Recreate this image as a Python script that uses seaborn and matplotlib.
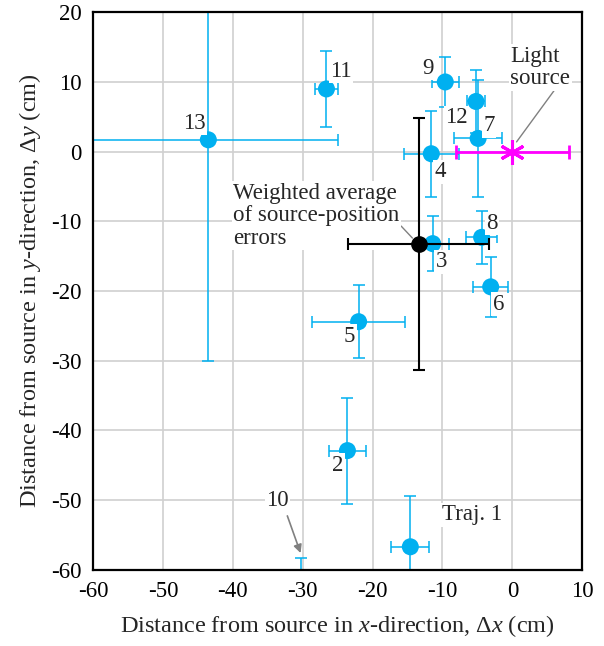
import matplotlib
matplotlib.use("Agg")
import matplotlib.pyplot as plt
from matplotlib.ticker import MultipleLocator
import seaborn as sns
import pandas as pd

# ---- data ----
traj = ["Traj. 1", "2", "3", "4", "5", "6", "7", "8", "9", "10", "11", "12", "13"]
dx = [-14.6, -23.6, -11.4, -11.6, -22.0, -3.1, -4.9, -4.4, -9.6, -30.3, -26.6, -5.2, -43.5]
dy = [-56.7, -42.9, -13.2, -0.3, -24.4, -19.4, 1.9, -12.3, 10.0, -65.0, 9.0, 7.2, 1.7]
ex = [2.7, 2.6, 2.3, 3.9, 6.7, 2.5, 3.45, 2.2, 1.9, 2.0, 1.6, 1.3, 18.5]
ey = [7.3, 7.6, 3.9, 6.2, 5.2, 4.3, 8.4, 3.8, 3.65, 6.7, 5.4, 4.5, 31.7]

avg_x, avg_y, avg_ex, avg_ey = -13.4, -13.2, 10.1, 18.1
src_x, src_y, src_ex = 0.0, 0.0, 8.1

# label anchor positions (data coords)
lab_x = [-10.0, -25.0, -10.2, -10.3, -23.3, -2.0, -3.3, -2.9, -12.0, -33.6, -24.5, -8.0, -45.5]
lab_y = [-52.1, -45.0, -15.8, -2.9, -26.5, -21.9, 3.7, -10.3, 12.0, -50.0, 11.5, 4.9, 4.1]

df = pd.DataFrame({"traj": traj, "dx": dx, "dy": dy, "ex": ex, "ey": ey})

BLUE = "#00B0F0"
MAG = "#FF00FF"

sns.set_style("white")
plt.rcParams["font.family"] = ["Liberation Serif", "DejaVu Serif"]
plt.rcParams["mathtext.fontset"] = "custom"
plt.rcParams["mathtext.rm"] = "Liberation Serif"
plt.rcParams["mathtext.it"] = "Liberation Serif:italic"
plt.rcParams["axes.unicode_minus"] = False

fig = plt.figure(figsize=(6.04, 6.46), dpi=100)
ax = fig.add_axes([0.154, 0.118, 0.81, 0.863])

ax.errorbar(df["dx"], df["dy"], xerr=df["ex"], yerr=df["ey"], fmt="none",
            ecolor=BLUE, elinewidth=1.1, capsize=4, capthick=1.1, zorder=2)
sns.scatterplot(data=df, x="dx", y="dy", color=BLUE, s=150, edgecolor="none",
                ax=ax, zorder=3, legend=False)

ax.errorbar([avg_x], [avg_y], xerr=[avg_ex], yerr=[avg_ey], fmt="o", color="black",
            ms=11, elinewidth=1.5, capsize=4, capthick=1.5, zorder=4)
ax.errorbar([src_x], [src_y], xerr=[src_ex], fmt="none", ecolor=MAG,
            elinewidth=2.0, capsize=5, capthick=2.0, zorder=4)
ax.plot([src_x], [src_y], marker=(6, 2, 0), ms=18, mew=2.2, color=MAG, ls="none", zorder=5)

fs = 16.5
box = dict(facecolor="white", edgecolor="none", pad=1.0)
for t, lx, ly in zip(traj, lab_x, lab_y):
    if t == "10":
        continue
    ha = "left" if t.startswith("Traj") else "center"
    ax.text(lx, ly, t, fontsize=fs, ha=ha, va="center", zorder=6, bbox=box)

ax.annotate("10", xy=(-30.3, -57.6), xytext=(-33.6, -50.0), fontsize=fs,
            ha="center", va="center", zorder=1.5, bbox=box,
            arrowprops=dict(arrowstyle="-|>", color="#808080", lw=1.2,
                            shrinkA=3, shrinkB=0, mutation_scale=12, relpos=(0.85, 0.0)))
ax.annotate("Light\nsource", xy=(0.6, 1.4), xytext=(-0.3, 12.1), fontsize=fs,
            ha="left", va="center", linespacing=1.1, zorder=1.5, bbox=box,
            arrowprops=dict(arrowstyle="-", color="#808080", lw=1.0,
                            shrinkA=0, shrinkB=0, relpos=(0.75, 0.0)))
ax.annotate("Weighted average\nof source-position\nerrors", xy=(-14.3, -12.4),
            xytext=(-39.9, -9.2), fontsize=fs, ha="left", va="center",
            linespacing=1.1, zorder=1.5, bbox=box,
            arrowprops=dict(arrowstyle="-", color="#808080", lw=1.0,
                            shrinkA=0, shrinkB=0, relpos=(0.98, 0.42)))

ax.set_xlim(-60, 10)
ax.set_ylim(-60, 20)
ax.xaxis.set_major_locator(MultipleLocator(10))
ax.yaxis.set_major_locator(MultipleLocator(10))
ax.xaxis.set_minor_locator(MultipleLocator(2))
ax.yaxis.set_minor_locator(MultipleLocator(2))
ax.grid(True, which="major", color="#D0D0D0", lw=1.2, zorder=0)
ax.set_axisbelow(True)
ax.tick_params(which="both", direction="in", length=4, width=1.2, top=False, right=False,
               labelsize=fs, pad=8, colors="black")
ax.tick_params(which="major", length=5)
for s in ax.spines.values():
    s.set_color("black")
    s.set_linewidth(1.6)

ax.set_xlabel(r"Distance from source in $\it{x}$-direction, Δ$\it{x}$ (cm)", fontsize=fs + 1, labelpad=8)
ax.set_ylabel(r"Distance from source in $\it{y}$-direction, Δ$\it{y}$ (cm)", fontsize=fs + 1, labelpad=6)

fig.savefig("out.png", dpi=100, facecolor="white")
